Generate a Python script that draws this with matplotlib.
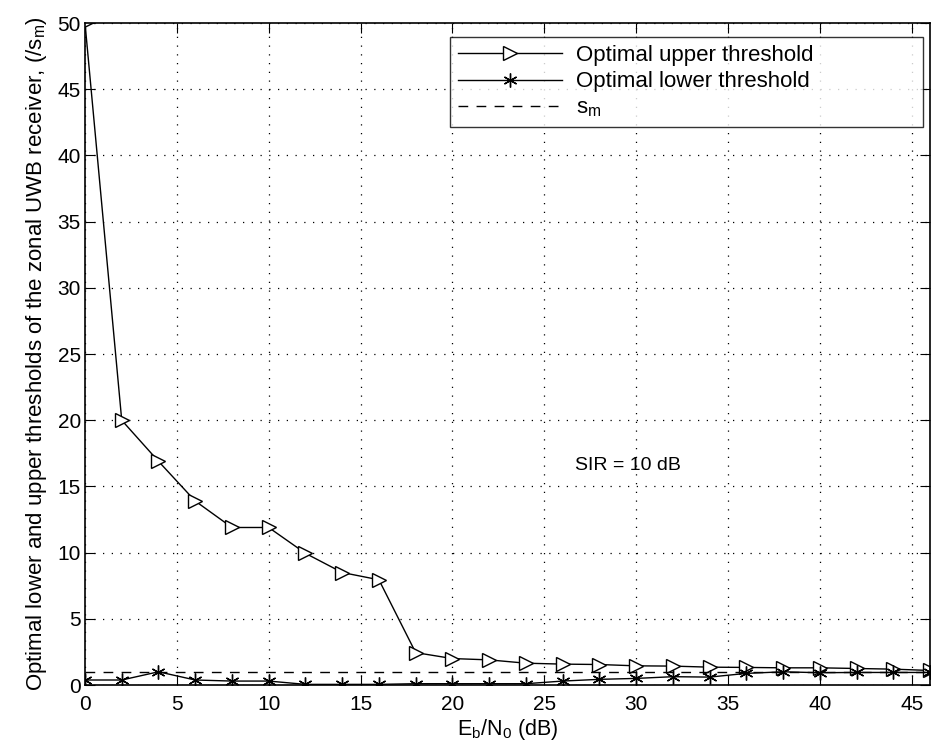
import numpy as np
import matplotlib
matplotlib.use('Agg')
import matplotlib.pyplot as plt

plt.rcParams['font.family'] = ['Liberation Sans', 'DejaVu Sans']
plt.rcParams['mathtext.fontset'] = 'custom'
plt.rcParams['mathtext.rm'] = 'Liberation Sans'
plt.rcParams['mathtext.it'] = 'Liberation Sans'

# Eb/N0 in dB
ebn0 = [0, 2, 4, 6, 8, 10, 12, 14, 16, 18, 20, 22, 24, 26, 28, 30, 32, 34, 36, 38, 40, 42, 44, 46]
upper = [50, 20, 16.9, 13.9, 11.9, 11.9, 9.95, 8.5, 7.95, 2.45, 2.0, 1.9, 1.65, 1.58, 1.55, 1.45,
         1.43, 1.35, 1.33, 1.3, 1.3, 1.25, 1.2, 1.1]
lower = [0.38, 0.38, 1.0, 0.38, 0.3, 0.3, 0.05, 0.05, 0.05, 0.1, 0.1, 0.1, 0.1, 0.3,
         0.43, 0.5, 0.63, 0.6, 0.88, 1.0, 0.93, 0.95, 0.95, 0.95]
s_m = 1.0

fig = plt.figure(figsize=(9.33, 7.49), dpi=100)
ax = fig.add_axes([0.0911, 0.0854, 0.9057, 0.8838])

ax.plot(ebn0, upper, color='k', lw=1, marker='>', markersize=9.5,
        markerfacecolor='white', markeredgecolor='k', label='Optimal upper threshold')
ax.plot(ebn0, lower, color='k', lw=1, marker=(6, 2, 0), markersize=10,
        markeredgewidth=1, label='Optimal lower threshold')
ax.plot([0, 46], [s_m, s_m], color='k', lw=1, ls=(0, (7, 6)), label='s$_\\mathregular{m}$')

ax.set_xlim(0, 46)
ax.set_ylim(0, 50)
ax.set_xticks(np.arange(0, 46, 5))
ax.set_yticks(np.arange(0, 51, 5))
ax.tick_params(direction='in', top=True, right=True, labelsize=15, length=7)
ax.tick_params(axis='x', pad=7)
ax.tick_params(axis='y', pad=3)
ax.grid(True, ls=(0, (1, 6)), color='k', lw=0.9)

ax.set_xlabel('E$_\\mathregular{b}$/N$_\\mathregular{0}$ (dB)', fontsize=15.5, labelpad=2)
ax.set_ylabel('Optimal lower and upper thresholds of the zonal UWB receiver, (/s$_\\mathregular{m}$)',
              fontsize=16, labelpad=6)

ax.text(26.7, 16.6, 'SIR = 10 dB', fontsize=14, va='center', ha='left')

leg = ax.legend(loc='upper left', bbox_to_anchor=(0.432, 0.841, 0.560, 0.138),
                mode='expand', borderaxespad=0, fontsize=16, frameon=True,
                fancybox=False, edgecolor='k', handlelength=4.7, handletextpad=0.6,
                borderpad=0.35, labelspacing=0.25)
leg.get_frame().set_linewidth(1)

for s in ax.spines.values():
    s.set_linewidth(1.2)

fig.savefig('out.png', dpi=100)
